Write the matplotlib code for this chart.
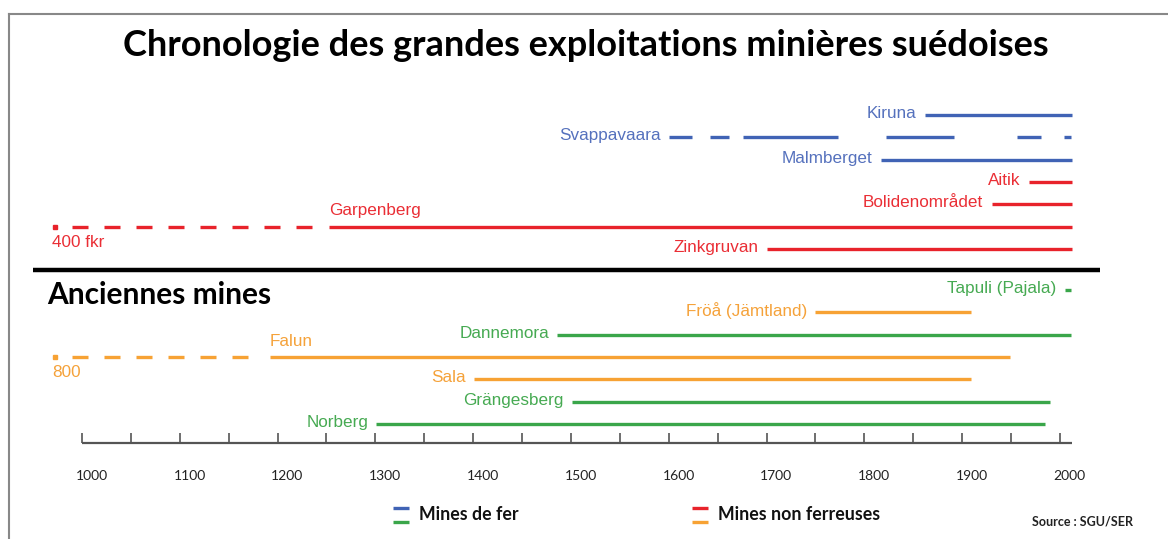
import matplotlib.pyplot as plt
from matplotlib.lines import Line2D

# --- data (years) ---
mines_haut = ["Kiruna", "Svappavaara", "Malmberget", "Aitik", "Bolidenområdet", "Garpenberg", "Zinkgruvan"]
debut_haut = [1862, 1600, 1817, 1968, 1930, 1253, 1700]
fin_haut = [2012, 2012, 2012, 2012, 2012, 2012, 2012]
type_haut = ["fer", "fer", "fer", "nonfer", "nonfer", "nonfer", "nonfer"]

# Svappavaara was worked in periods
svappavaara_periodes = [(1600, 1624), (1642, 1662), (1676, 1773), (1822, 1892), (1956, 1981), (2004, 2011)]

mines_bas = ["Tapuli (Pajala)", "Fröå (Jämtland)", "Dannemora", "Falun", "Sala", "Grängesberg", "Norberg"]
debut_bas = [2005, 1750, 1486, 1192, 1401, 1501, 1301]
fin_bas = [2011, 1909, 2011, 1949, 1909, 1990, 1985]
type_bas = ["fer", "nonfer", "fer", "nonfer", "nonfer", "fer", "fer"]

# older start shown with a dashed line (axis break)
debut_ancien = {"Garpenberg": (972, "400 fkr"), "Falun": (972, "800")}

annees = list(range(1000, 2001, 100))

# colours: top part (recent) / bottom part (old)
couleurs_haut = {"fer": "#4063b5", "nonfer": "#e8232b"}
couleurs_bas = {"fer": "#3aa64a", "nonfer": "#f7a234"}
textes_haut = {"fer": "#5571bd", "nonfer": "#ea2e35"}
textes_bas = {"fer": "#46aa52", "nonfer": "#f5a23a"}

W, H = 1168, 539
px_an = 0.978
x0 = 1000 - 82 / px_an
x1 = x0 + W / px_an

fig = plt.figure(figsize=(W / 100, H / 100), dpi=100)
ax = fig.add_axes([0, 0, 1, 1])
ax.set_xlim(x0, x1)
ax.set_ylim(H, 0)
ax.axis("off")

LW = 2.4
lbl = dict(fontfamily="Liberation Sans", fontsize=12.3)


def rang(y0, i):
    return y0 + 22.3 * i


def dessine(noms, debuts, fins, types, y0, cols, tcols):
    for i, nom in enumerate(noms):
        y = rang(y0, i)
        c, tc = cols[types[i]], tcols[types[i]]
        if nom == "Svappavaara":
            for a, b in svappavaara_periodes:
                ax.hlines(y, a, b, color=c, lw=LW)
        else:
            ax.hlines(y, debuts[i], fins[i], color=c, lw=LW)
        if nom in debut_ancien:
            a, txt = debut_ancien[nom]
            ax.plot([a + 18, debuts[i] - 16], [y, y], color=c, lw=LW,
                    dashes=(4.8, 4.8), dash_capstyle="butt")
            ax.plot([a], [y], marker="s", ms=2.5, color=c)
            ax.annotate(nom, (debuts[i], y), xytext=(0, 6), textcoords="offset points",
                        ha="left", va="bottom", color=tc, **lbl)
            ax.annotate(txt, (a, y), xytext=(-2, -6), textcoords="offset points",
                        ha="left", va="top", color=tc, **lbl)
        else:
            ax.annotate(nom, (debuts[i], y), xytext=(-6, 1), textcoords="offset points",
                        ha="right", va="center", color=tc, **lbl)


dessine(mines_haut, debut_haut, fin_haut, type_haut, 115, couleurs_haut, textes_haut)
dessine(mines_bas, debut_bas, fin_bas, type_bas, 290, couleurs_bas, textes_bas)

# divider
ax.hlines(270, x0 + 33 / px_an, x0 + 1100 / px_an, color="black", lw=3.2)
ax.text(x0 + 47 / px_an, 295, "Anciennes mines", fontfamily="Lato", fontweight="bold",
        fontsize=21.5, ha="left", va="center", color="black")

# title
ax.text(x0 + 586 / px_an, 45, "Chronologie des grandes exploitations minières suédoises",
        fontfamily="Lato", fontweight="bold", fontsize=26, ha="center", va="center")

# time axis
ax.hlines(443, 1000, 2012, color="#555555", lw=1.6)
for t in range(1000, 2001, 50):
    ax.vlines(t, 433, 443, color="#555555", lw=1.2)
for a in annees:
    ax.text(a + 10, 476, str(a), fontfamily="Lato", fontsize=10, ha="center", va="center",
            color="#222222")

# legend
for xl, cs, txt in [(393, ("#4063b5", "#3aa64a"), "Mines de fer"),
                    (692, ("#e8232b", "#f7a234"), "Mines non ferreuses")]:
    ax.hlines(508, x0 + xl / px_an, x0 + (xl + 16) / px_an, color=cs[0], lw=2.4)
    ax.hlines(522, x0 + xl / px_an, x0 + (xl + 16) / px_an, color=cs[1], lw=2.4)
    ax.text(x0 + (xl + 26) / px_an, 514, txt, fontfamily="Lato", fontweight="bold",
            fontsize=12.8, ha="left", va="center", color="#111111")

ax.text(x0 + 1133 / px_an, 522, "Source : SGU/SER", fontfamily="Lato", fontweight="bold",
        fontsize=9, ha="right", va="center", color="#222222")

# frame
fig.add_artist(Line2D([9 / W, 1], [1 - 14 / H, 1 - 14 / H], color="#888888", lw=1.5))
fig.add_artist(Line2D([9 / W, 9 / W], [0, 1 - 14 / H], color="#888888", lw=1.5))

fig.savefig("out.png", dpi=100)
